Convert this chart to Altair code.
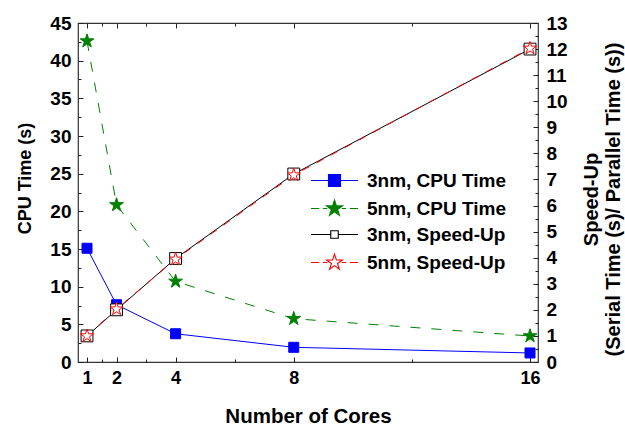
import altair as alt
import pandas as pd

cores = [1, 2, 4, 8, 16]
cpu_3nm = [15.1, 7.6, 3.75, 1.95, 1.2]
cpu_5nm = [42.6, 20.85, 10.7, 5.75, 3.45]
speedup_3nm = [1.0, 2.0, 3.97, 7.21, 12.0]
speedup_5nm = [1.0, 2.03, 3.94, 7.17, 12.03]

series_names = ["3nm, CPU Time", "5nm, CPU Time", "3nm, Speed-Up", "5nm, Speed-Up"]
stroke_colors = ["#0000FF", "#008000", "#000000", "#FF0000"]
fill_colors = ["#0000FF", "#008000", "#FFFFFF", "#FFFFFF"]

STAR_PTS = [(0, -1), (0.225, -0.309), (0.951, -0.309), (0.363, 0.118), (0.588, 0.809),
            (0, 0.382), (-0.588, 0.809), (-0.363, 0.118), (-0.951, -0.309), (-0.225, -0.309)]


def star_path(r):
    return "M" + "L".join(f"{x * r:.3f},{y * r:.3f}" for x, y in STAR_PTS) + "Z"


def square_path(h):
    return f"M{-h},{-h}L{h},{-h}L{h},{h}L{-h},{h}Z"


def seg(a, b):
    return f"M{a},0L{b},0"


STAR = star_path(1)
# legend glyphs: marker with its connecting line (unit = 8 px)
L = 2.94
leg_shapes = [
    seg(-L, -0.75) + seg(0.75, L) + square_path(0.75),
    seg(-L, -1.9) + seg(-1.45, -0.9) + seg(0.9, 1.45) + seg(1.9, L) + star_path(1.06),
    seg(-L, -0.47) + seg(0.47, L) + square_path(0.47),
    seg(-L, -1.9) + seg(-1.45, -0.9) + seg(0.9, 1.45) + seg(1.9, L) + star_path(1.04),
]

x_major = [1, 2, 4, 8, 16]
x_minor = [1.5, 3, 6, 12]
yl_major = [0, 5, 10, 15, 20, 25, 30, 35, 40, 45]
yl_minor = [2.5, 7.5, 12.5, 17.5, 22.5, 27.5, 32.5, 37.5, 42.5]
yr_major = list(range(0, 14))
yr_minor = [i + 0.5 for i in range(0, 13)]

cpu = pd.DataFrame({
    "cores": cores * 2,
    "value": cpu_3nm + cpu_5nm,
    "series": [series_names[0]] * 5 + [series_names[1]] * 5,
})
spd = pd.DataFrame({
    "cores": cores * 2,
    "value": speedup_3nm + speedup_5nm,
    "series": [series_names[2]] * 5 + [series_names[3]] * 5,
})

xs = alt.Scale(domain=[0.695, 16.27], nice=False, zero=False)
yl = alt.Scale(domain=[0, 45], nice=False)
yr = alt.Scale(domain=[0, 13], nice=False)

FONT = "Liberation Sans"
LBL = dict(labelFont=FONT, labelFontWeight="bold", labelColor="black",
           titleFont=FONT, titleFontWeight="bold", titleColor="black",
           domain=False, ticks=False, grid=False)


def tick_axis(values, size, orient):
    return alt.Axis(values=values, tickSize=size, offset=-size, labels=False, domain=False,
                    grid=False, title=None, tickColor="#222222", tickWidth=1, orient=orient)


def line_layer(df, name, scale, color, dash):
    extra = {"strokeDash": dash} if dash else {}
    return alt.Chart(df).transform_filter(alt.datum.series == name).mark_line(
        color=color, strokeWidth=1, **extra
    ).encode(
        x=alt.X("cores:Q", scale=xs, axis=None),
        y=alt.Y("value:Q", scale=scale, axis=None),
    )


def point_layer(df, name, scale, shape, stroke, fill, size, xaxis=None, yaxis=None):
    return alt.Chart(df).transform_filter(alt.datum.series == name).mark_point(
        shape=shape, stroke=stroke, fill=fill, fillOpacity=1, opacity=1,
        strokeWidth=1, size=size
    ).encode(
        x=alt.X("cores:Q", scale=xs, axis=xaxis),
        y=alt.Y("value:Q", scale=scale, axis=yaxis),
    )


lines_cpu3 = line_layer(cpu, series_names[0], yl, "#0000FF", None)
lines_cpu5 = line_layer(cpu, series_names[1], yl, "#008000", [10, 11])
lines_sp3 = line_layer(spd, series_names[2], yr, "#000000", None)
lines_sp5 = line_layer(spd, series_names[3], yr, "#FF0000", [8, 8])

xaxis_main = alt.Axis(title="Number of Cores", values=x_major, labelPadding=7,
                      labelFontSize=18, titleFontSize=20.5, titlePadding=19,
                      orient="bottom", **LBL)
yaxis_left = alt.Axis(title="CPU Time (s)", values=yl_major, labelPadding=7,
                      labelFontSize=19, titleFontSize=18, titlePadding=15,
                      titleY=155, orient="left", **LBL)
yaxis_right = alt.Axis(title=["Speed-Up", "(Serial Time (s)/ Parallel Time (s))"],
                       values=yr_major, labelPadding=8, labelFontSize=19,
                       titleFontSize=20, titlePadding=12, titleAngle=270,
                       titleY=176, orient="right", **LBL)

pts_cpu3 = point_layer(cpu, series_names[0], yl, "square", "#0000FF", "#0000FF", 100,
                       xaxis=xaxis_main, yaxis=yaxis_left)
pts_cpu5 = point_layer(cpu, series_names[1], yl, STAR, "#008000", "#008000", 210)
pts_sp3 = point_layer(spd, series_names[2], yr, "square", "#000000", "#FFFFFF", 140,
                      yaxis=yaxis_right)
pts_sp5 = point_layer(spd, series_names[3], yr, STAR, "#FF0000", "#FFFFFF", 190)

# legend-only layer (no rows drawn; entries come from the explicit scale domain)
legend = alt.Legend(title=None, orient="none", legendX=247, legendY=148, padding=0,
                    labelFont=FONT, labelFontWeight="bold", labelFontSize=19,
                    labelColor="black", symbolSize=256, symbolStrokeWidth=1.1,
                    rowPadding=6, labelOffset=23, symbolOffset=0)
leg_df = pd.DataFrame({"cores": cores, "value": speedup_3nm,
                       "series": series_names + [series_names[0]]})
leg_layer = alt.Chart(leg_df).transform_filter("datum.cores < 0").mark_point(
    filled=False, opacity=1
).encode(
    x=alt.X("cores:Q", scale=xs, axis=None),
    y=alt.Y("value:Q", scale=yr, axis=None),
    color=alt.Color("series:N", scale=alt.Scale(domain=series_names, range=stroke_colors),
                    legend=legend),
    fill=alt.Fill("series:N", scale=alt.Scale(domain=series_names, range=fill_colors),
                  legend=legend),
    shape=alt.Shape("series:N", scale=alt.Scale(domain=series_names, range=leg_shapes),
                    legend=legend),
)

# invisible layers that only carry inward tick marks
base = pd.DataFrame({"cores": cores, "value": speedup_3nm})
t1 = alt.Chart(base).mark_point(opacity=0).encode(
    x=alt.X("cores:Q", scale=xs, axis=tick_axis(x_major, 5, "bottom")),
    y=alt.Y("value:Q", scale=yl, axis=tick_axis(yl_major, 5, "left")),
)
t2 = alt.Chart(base).mark_point(opacity=0).encode(
    x=alt.X("cores:Q", scale=xs, axis=tick_axis(x_minor, 3, "bottom")),
    y=alt.Y("value:Q", scale=yl, axis=tick_axis(yl_minor, 3, "left")),
)
t3 = alt.Chart(base).mark_point(opacity=0).encode(
    x=alt.X("cores:Q", scale=xs, axis=tick_axis(x_major, 5, "top")),
    y=alt.Y("value:Q", scale=yr, axis=tick_axis(yr_major, 5, "right")),
)
t4 = alt.Chart(base).mark_point(opacity=0).encode(
    x=alt.X("cores:Q", scale=xs, axis=tick_axis(x_minor, 3, "top")),
    y=alt.Y("value:Q", scale=yr, axis=tick_axis(yr_minor, 3, "right")),
)

chart = alt.layer(
    t1, t2, t3, t4,
    lines_cpu3, lines_cpu5, pts_cpu3, pts_cpu5,
    lines_sp3, lines_sp5, pts_sp3, pts_sp5,
    leg_layer,
).resolve_scale(y="independent").resolve_axis(x="independent").properties(
    width=460, height=339,
    autosize=alt.AutoSizeParams(type="none"),
    padding={"left": 78, "top": 23, "right": 87, "bottom": 63},
    background="white",
).configure_view(stroke="#333333", strokeWidth=1.2)

chart.save("out.html", embed_options={"renderer": "svg", "actions": False})
